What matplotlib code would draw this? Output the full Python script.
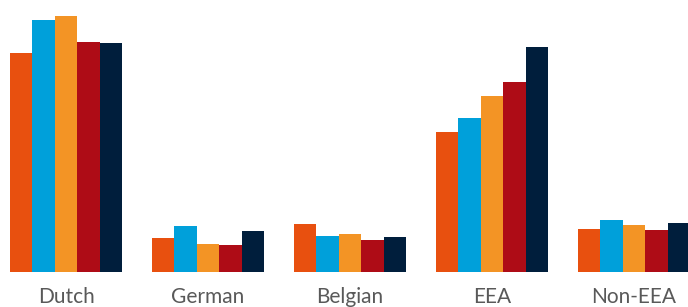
import numpy as np
import matplotlib.pyplot as plt

# Categorie e valori (unita' arbitrarie)
categories = ['Dutch', 'German', 'Belgian', 'EEA', 'Non-EEA']
series_1 = [219, 34, 48, 140, 43]
series_2 = [252, 46, 36, 154, 52]
series_3 = [256, 28, 38, 176, 47]
series_4 = [230, 27, 32, 190, 42]
series_5 = [229, 41, 35, 225, 49]

colors = ['#E8500F', '#00A0DA', '#F39425', '#AE0C16', '#001E3C']
series = [series_1, series_2, series_3, series_4, series_5]

fig = plt.figure(figsize=(6.88, 3.07), dpi=100)
ax = fig.add_axes([0, 35 / 307, 1, 272 / 307])

x = np.arange(len(categories))
width = 0.789 / 5
for i, (vals, col) in enumerate(zip(series, colors)):
    ax.bar(x + (i - 2) * width, vals, width=width, color=col, linewidth=0)

ax.set_xlim(-0.465, 4.38)
ax.set_ylim(0, 272)
ax.set_xticks(x)
ax.set_xticklabels(categories, fontsize=15, color='#595959', family=['Lato', 'DejaVu Sans'])
ax.tick_params(axis='x', length=0, pad=11)
ax.set_yticks([])
for s in ax.spines.values():
    s.set_visible(False)

fig.savefig('out.png', dpi=100)
